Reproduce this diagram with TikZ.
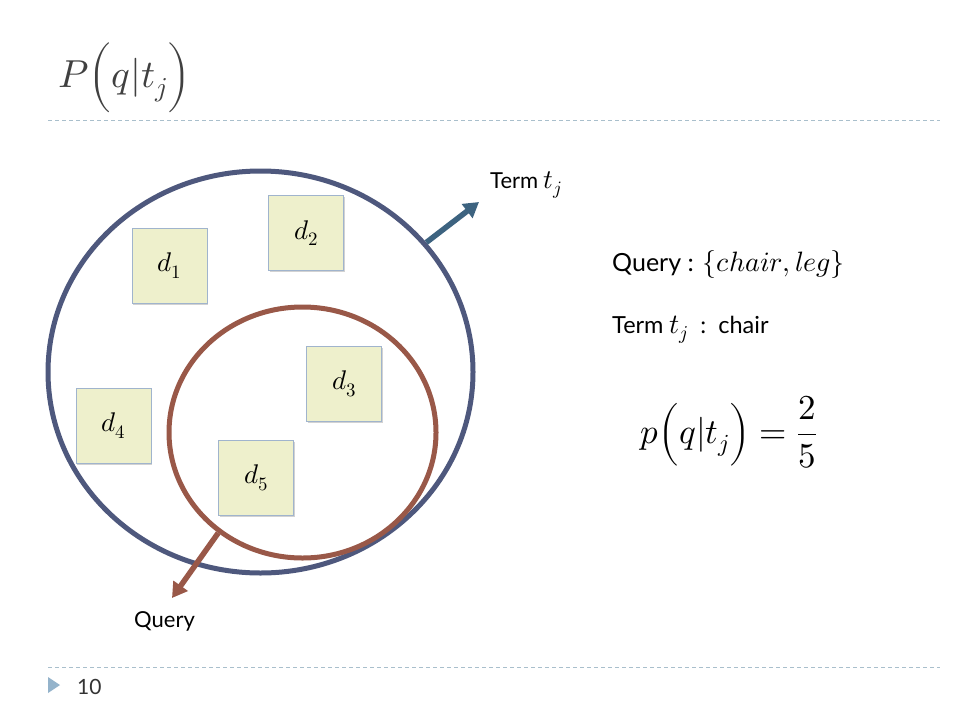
\documentclass[tikz,border=0pt]{standalone}
\usepackage{fontspec}
\usepackage{unicode-math}
\setmainfont{Lato}
\setmathfont{Latin Modern Math}
\usetikzlibrary{shapes.geometric,shadows,arrows.meta}
\definecolor{outerc}{RGB}{78,88,125}
\definecolor{brownc}{RGB}{153,88,72}
\definecolor{arrowblue}{RGB}{61,99,128}
\definecolor{boxfill}{RGB}{238,240,204}
\definecolor{boxline}{RGB}{160,180,205}
\definecolor{rulec}{RGB}{169,191,204}
\definecolor{tric}{RGB}{148,179,203}
\newcommand\bigmath[2]{{\fontsize{#1}{#1}\selectfont$#2$}}
\tikzset{
  docbox/.style={draw=boxline, line width=0.8pt, fill=boxfill, minimum size=75pt, inner sep=0pt,
    drop shadow={shadow xshift=1.2pt, shadow yshift=-1.8pt, opacity=0.35},
    font=\fontsize{27}{30}\selectfont},
  setring/.style={ellipse, draw, line width=5pt, inner sep=0pt},
  bigarrow/.style={line width=5.5pt, -{Triangle[length=15pt,width=17pt]}},
  dashrule/.style={draw=rulec, line width=0.8pt, dash pattern=on 4pt off 3pt},
  lbl/.style={inner sep=0pt, font=\fontsize{22}{26}\selectfont},
}
\begin{document}
\begin{tikzpicture}[x=1pt,y=-1pt]
\useasboundingbox (0,0) rectangle (960,720);
\fill[white] (0,0) rectangle (960,720);
% title
\node[anchor=base west, inner sep=0pt, font=\fontsize{39}{44}\selectfont, text=black!75] (title) at (58,87) {$P\Bigl(q|t_j\Bigr)$};
\coordinate (r1a) at (48,120);
\coordinate (r1b) at (940,120);
\draw[dashrule] (r1a) -- (r1b);
% sets
\node[setring, draw=outerc, minimum width=425pt, minimum height=402pt] (termset) at (260.5,372) {};
\node[setring, draw=brownc, minimum width=267pt, minimum height=251pt] (queryset) at (302.5,432.5) {};
% documents
\node[docbox] (d1) at (169.5,265.5) {$d_1$};
\node[docbox] (d2) at (306,233) {$d_2$};
\node[docbox] (d3) at (344,384) {$d_3$};
\node[docbox] (d4) at (113.5,425.5) {$d_4$};
\node[docbox] (d5) at (256,478) {$d_5$};
% arrows and labels
\coordinate (ttip) at (479,202);
\coordinate (qtip) at (172,598);
\draw[bigarrow, arrowblue] (termset.38) -- (ttip);
\draw[bigarrow, brownc] (queryset.230) -- (qtip);
\node[lbl, anchor=base west] (termlbl) at (490,188) {Term \bigmath{27}{t_j}};
\node[lbl, anchor=base west] (querylbl) at (134,627) {Query};
% right side text
\node[lbl, anchor=base west, font=\fontsize{25}{28}\selectfont] (qline) at (612,271) {Query : \bigmath{28}{\{chair, leg\}}};
\node[lbl, anchor=base west, font=\fontsize{23.5}{28}\selectfont] (tline) at (612,333) {Term \bigmath{28}{t_j}\hspace{6pt} :\hspace{4pt} chair};
\node[anchor=base west, inner sep=0pt, font=\fontsize{35}{40}\selectfont] (formula) at (640,443) {$\displaystyle p\Bigl(q|t_j\Bigr)=\frac{2}{5}$};
% footer
\coordinate (r2a) at (48,667);
\coordinate (r2b) at (940,667);
\draw[dashrule] (r2a) -- (r2b);
\fill[tric] (48,677) -- (48,693) -- (60,685) -- cycle;
\node[lbl, anchor=base west, text=black!80, font=\fontsize{21}{24}\selectfont] (pnum) at (77,694) {10};
\end{tikzpicture}
\end{document}
